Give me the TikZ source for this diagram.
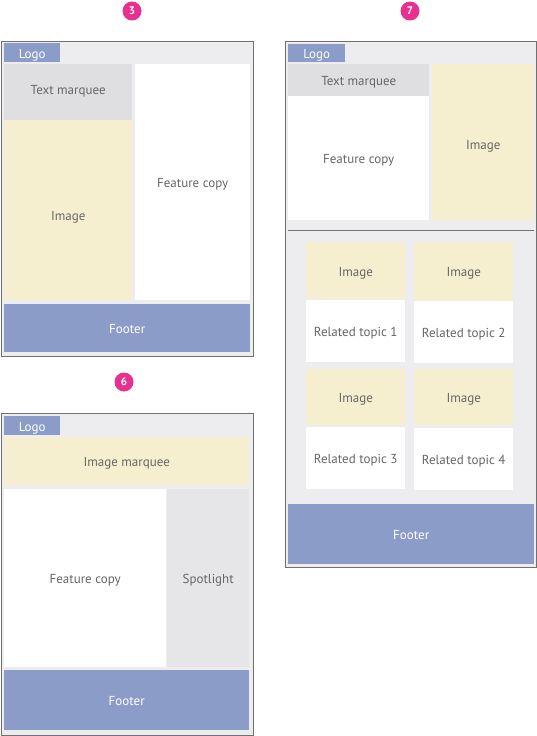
\documentclass[tikz,border=0pt]{standalone}
\usepackage{fontspec}
\setmainfont{PT Sans}
\definecolor{framegray}{HTML}{707070}
\definecolor{pagegray}{HTML}{EDEDEF}
\definecolor{navblue}{HTML}{8C9CC8}
\definecolor{marqueegray}{HTML}{DFDFE1}
\definecolor{spotgray}{HTML}{E6E6E8}
\definecolor{cream}{HTML}{F6EFCF}
\definecolor{labelgray}{HTML}{666666}
\definecolor{badgepink}{HTML}{E8318F}

\begin{document}
\begin{tikzpicture}[x=1pt,y=-1pt,
	block/.style={anchor=north west, inner sep=0pt, text=labelgray, text height=12pt, text depth=1pt, font=\fontsize{13}{15}\selectfont},
	frame/.style={block, draw=framegray, line width=1pt, fill=pagegray},
	navbox/.style={block, fill=navblue, text=white},
	greybox/.style={block, fill=marqueegray},
	spotbox/.style={block, fill=spotgray},
	imagebox/.style={block, fill=cream},
	copybox/.style={block, fill=white},
	badge/.style={circle, fill=badgepink, text=white, inner sep=0pt, minimum size=19pt, font=\fontsize{11}{12}\selectfont\bfseries}]
	\useasboundingbox (0,0) rectangle (537,736);
	
	% layout 3
	\node[badge] (B3) at (132,11) {3};
	\node[frame, minimum width=252pt, minimum height=315.5pt] (F3) at (0.5,40.5) {};
	\node[navbox, minimum width=56pt, minimum height=19pt] (L3) at (4,43) {Logo};
	\node[greybox, minimum width=128pt, minimum height=56pt] (M3) at (4,64) {\raisebox{3.5pt}{Text marquee}};
	\node[imagebox, minimum width=128pt, minimum height=180pt] (I3) at (4,120) {\raisebox{-4.5pt}{Image}};
	\node[copybox, minimum width=115pt, minimum height=236pt] (C3) at (135,64) {Feature copy};
	\node[navbox, minimum width=246pt, minimum height=48pt] (Ft3) at (4,304) {Footer};
	
	% layout 6
	\node[badge] (B6) at (124,382) {6};
	\node[frame, minimum width=252pt, minimum height=322.5pt] (F6) at (0.5,412.5) {};
	\node[navbox, minimum width=56pt, minimum height=19pt] (L6) at (4,416) {Logo};
	\node[imagebox, minimum width=245pt, minimum height=48pt] (M6) at (4,437) {Image marquee};
	\node[copybox, minimum width=162pt, minimum height=178pt] (C6) at (4,489) {Feature copy};
	\node[spotbox, minimum width=82pt, minimum height=178pt] (S6) at (167,489) {Spotlight};
	\node[navbox, minimum width=245pt, minimum height=60pt] (Ft6) at (4,670) {Footer};
	
	% layout 7
	\node[badge] (B7) at (410,11) {7};
	\node[frame, minimum width=251.5pt, minimum height=526.5pt] (F7) at (284.5,40.5) {};
	\node[navbox, minimum width=57pt, minimum height=18pt] (L7) at (288,44) {Logo};
	\node[greybox, minimum width=141pt, minimum height=32pt] (M7) at (288,64) {Text marquee};
	\node[copybox, minimum width=141pt, minimum height=124pt] (C7) at (288,96) {Feature copy};
	\node[imagebox, minimum width=102pt, minimum height=156pt] (I7) at (432,64) {\raisebox{-1.5pt}{Image}};
	\coordinate (D7a) at (288,230.5);
	\coordinate (D7b) at (534,230.5);
	\draw[framegray, line width=1pt] (D7a) -- (D7b);
	\node[imagebox, minimum width=99pt, minimum height=57pt] (RI1) at (306,242) {Image};
	\node[copybox, minimum width=99pt, minimum height=62pt] (RT1) at (306,300) {Related topic 1};
	\node[imagebox, minimum width=99pt, minimum height=58pt] (RI2) at (414,242) {Image};
	\node[copybox, minimum width=99pt, minimum height=62pt] (RT2) at (414,301) {Related topic 2};
	\node[imagebox, minimum width=99pt, minimum height=56pt] (RI3) at (306,369) {Image};
	\node[copybox, minimum width=99pt, minimum height=62pt] (RT3) at (306,427) {Related topic 3};
	\node[imagebox, minimum width=99pt, minimum height=56pt] (RI4) at (414,369) {Image};
	\node[copybox, minimum width=99pt, minimum height=62pt] (RT4) at (414,428) {Related topic 4};
	\node[navbox, minimum width=246pt, minimum height=60pt] (Ft7) at (288,504) {Footer};
\end{tikzpicture}
\end{document}
